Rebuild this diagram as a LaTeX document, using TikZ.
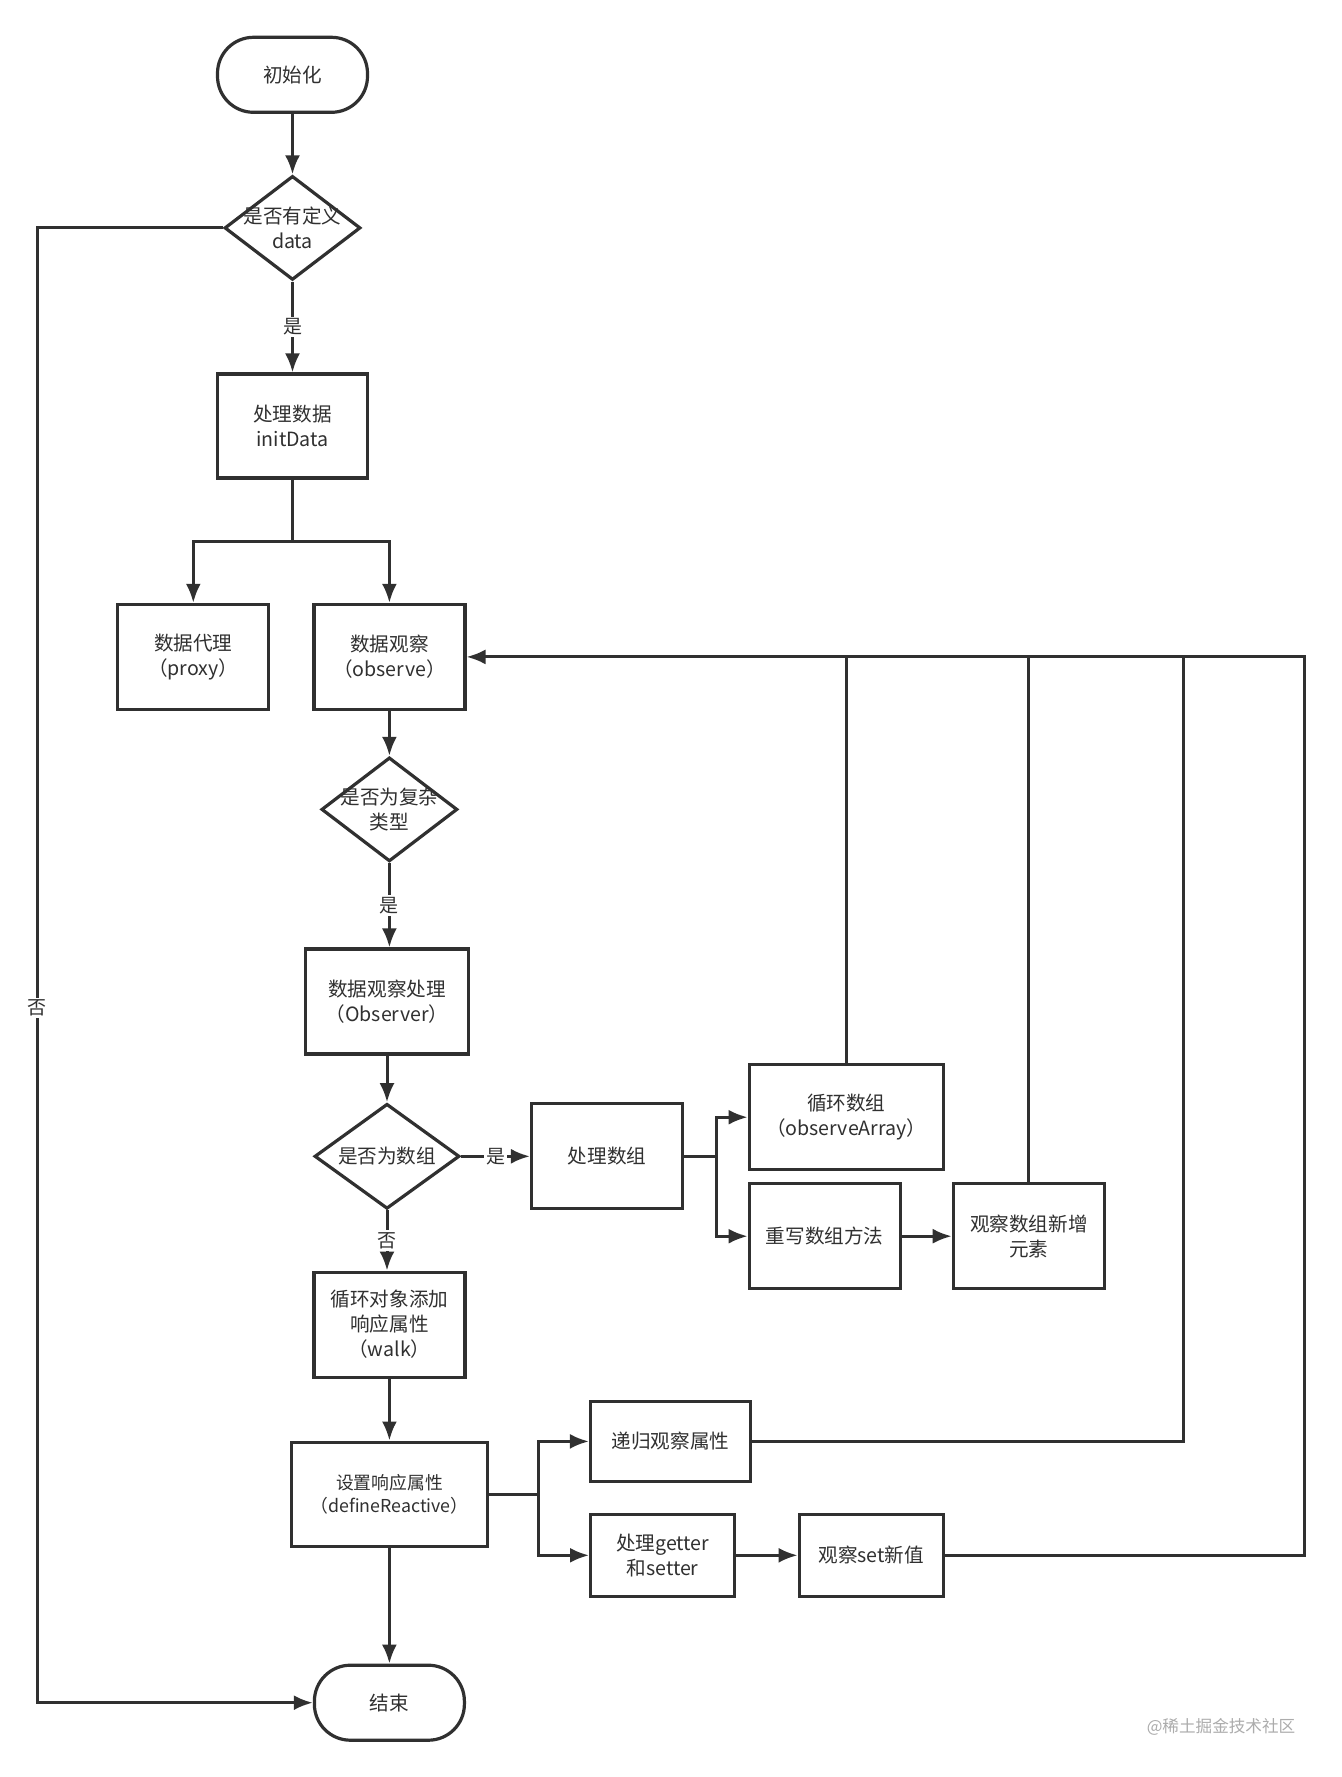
\documentclass[tikz,border=0pt]{standalone}
\usepackage{fontspec}
\setmainfont{Noto Sans CJK SC}
\usetikzlibrary{shapes.geometric,arrows.meta}
\definecolor{ink}{HTML}{303030}

\begin{document}
\begin{tikzpicture}[>={Latex[length=9.5pt,width=7.5pt]},x=0.5pt,y=-0.5pt,color=ink,line width=1.5pt,
	every node/.style={text=ink,font=\fontsize{9.8}{12.5}\selectfont},
	box/.style={rectangle,draw=ink,line width=1.6pt,align=center,inner sep=1pt,minimum width=75.5pt,minimum height=52.5pt},
	term/.style={box,rounded corners=18pt,minimum width=75pt,minimum height=37.5pt},
	decision/.style={diamond,draw=ink,line width=1.6pt,inner sep=0pt,minimum width=68pt,minimum height=52pt},
	small/.style={font=\fontsize{8.9}{11.3}\selectfont},
	lbl/.style={fill=white,inner sep=1pt,font=\fontsize{9.5}{11}\selectfont}]

\fill[white] (0,0) rectangle (1341,1777);
\useasboundingbox (0,0) rectangle (1341,1777);

% left column
\node[term] (start) at (292.5,74.8) {初始化};
\node[decision] (d1) at (292.5,227.9) {};
\node[align=center] (d1t) at (d1) {是否有定义\\data};
\node[box,minimum width=75pt,minimum height=52pt] (init) at (292.5,426) {处理数据\\initData};
\node[box] (proxy) at (193.3,656.9) {数据代理\\（proxy）};
\node[box] (observe) at (389.4,656.9) {数据观察\\（observe）};
\node[decision] (d2) at (389.4,809.4) {};
\node[align=center] (d2t) at (d2) {是否为复杂\\类型};
\node[box,minimum width=81.5pt] (obsr) at (387,1001.5) {数据观察处理\\（Observer）};
\node[decision,minimum width=72.5pt,minimum height=52.5pt] (d3) at (387,1156.3) {};
\node (d3t) at (d3) {是否为数组};
\node[box,align=center] (walk) at (389.4,1324.6) {循环对象添加\\响应属性\\（walk）};
\node[box,small,minimum width=98pt,minimum height=52pt] (define) at (389.4,1494.1) {设置响应属性\\（defineReactive）};
\node[term] (end) at (389.4,1702.7) {结束};

% array branch
\node[box] (arr) at (607,1156.3) {处理数组};
\node[box,minimum width=97pt] (oarr) at (846.2,1117.2) {循环数组\\（observeArray）};
\node[box] (rew) at (824.7,1236.2) {重写数组方法};
\node[box] (newel) at (1028.8,1236.2) {观察数组新增\\元素};

% reactive branch
\node[box,minimum width=80pt,minimum height=40pt] (rec) at (670.5,1441.4) {递归观察属性};
\node[box,minimum width=72pt,minimum height=41pt] (getset) at (662.6,1555.3) {处理getter\\和setter};
\node[box,minimum width=72pt,minimum height=41pt] (setv) at (871.2,1555.3) {观察set新值};

\node[text=gray!65,font=\fontsize{8.3}{9}\selectfont] (mark) at (1221,1726.5) {@稀土掘金技术社区};

\coordinate (j1) at (292.5,541.9);
\coordinate (j2) at (716.4,1156.3);
\coordinate (j3) at (538.5,1494.1);
\coordinate (j4) at (37.4,1007.8);
\coordinate (r1) at (1183.5,656.9);
\coordinate (r2) at (1304.8,656.9);

\draw[->] (start) -- (d1);
\draw[->] (d1) -- (init) node[lbl,midway] (yes1) {是};
\draw (init) -- (j1);
\draw[->] (j1) -| (proxy);
\draw[->] (j1) -| (observe);
\draw[->] (observe) -- (d2);
\draw[->] (d2.south) -- (d2.south |- obsr.north) node[lbl,midway] (yes2) {是};
\draw[->] (obsr) -- (d3);
\draw[->] (d3) -- (arr) node[lbl,midway] (yes3) {是};
\draw[->] (d3.south) -- (d3.south |- walk.north) node[lbl,midway] (no2) {否};
\draw[->] (walk) -- (define);
\draw[->] (define) -- (end);

\draw (arr) -- (j2);
\draw[->] (j2) |- (oarr);
\draw[->] (j2) |- (rew);
\draw[->] (rew) -- (newel);

\draw (define) -- (j3);
\draw[->] (j3) |- (rec);
\draw[->] (j3) |- (getset);
\draw[->] (getset) -- (setv);

% back to observe
\draw[->] (setv) -| (r2) -- (observe);
\draw (rec) -| (r1);
\foreach \n in {oarr,newel}
	\draw (\n.north) -- (\n.north |- observe.east);

% no data
\draw[->] (d1) -| (j4) |- (end);
\node[lbl] (no1) at (j4) {否};

\end{tikzpicture}
\end{document}
